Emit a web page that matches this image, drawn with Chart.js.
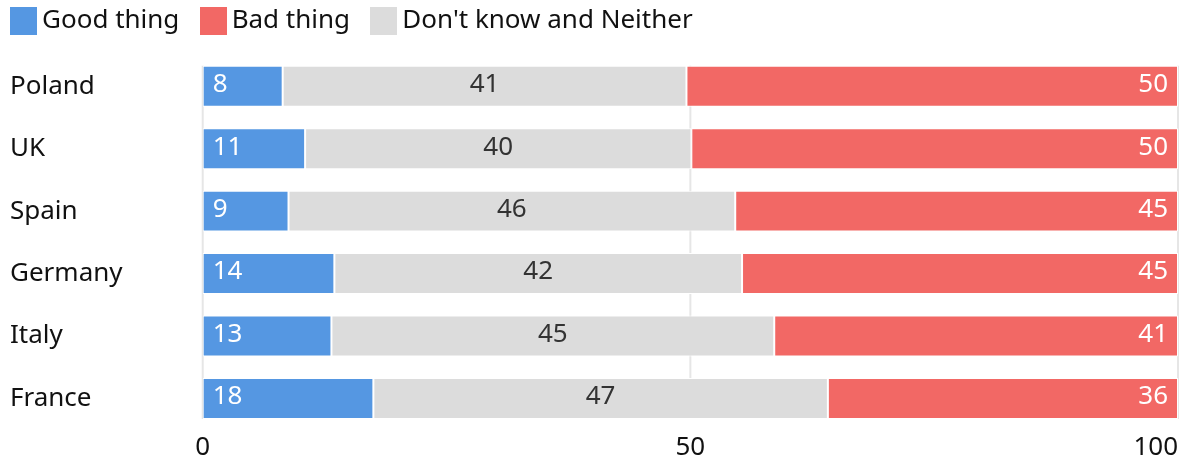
<!DOCTYPE html>
<html>
<head>
<meta charset="utf-8">
<script src="https://cdn.jsdelivr.net/npm/chart.js@4"></script>
<style>
html,body{margin:0;padding:0;background:#fff;}
#wrap{width:1186px;height:465px;position:relative;}
</style>
</head>
<body>
<div id="wrap"><canvas id="c"></canvas></div>
<script>
const categories = ['Poland', 'UK', 'Spain', 'Germany', 'Italy', 'France'];
const goodThing = [8.2, 10.5, 8.8, 13.5, 13.2, 17.5];
const dontKnow  = [41.4, 39.6, 45.8, 41.8, 45.4, 46.6];
const badThing  = [50.4, 49.9, 45.4, 44.7, 41.4, 35.9];
const seriesNames = ['Good thing', "Don't know and Neither", 'Bad thing'];
const legendOrder = [0, 2, 1];
const xTickValues = [0, 50, 100];
const xTickLabels = ['0', '50', '100'];

const colors = ['#5597E2', '#DCDCDC', '#F26865'];
const labelColors = ['#ffffff', '#333333', '#ffffff'];
const FONT = "'Noto Sans', sans-serif";
Chart.defaults.font.family = FONT;

function squareImg(c) {
  const cv = document.createElement('canvas');
  cv.width = 27; cv.height = 28;
  const g = cv.getContext('2d');
  g.fillStyle = c; g.fillRect(0, 0, 27, 28);
  return cv;
}

const legendPad = {
  id: 'legendPad',
  afterInit(chart) {
    const lg = chart.legend;
    if (!lg) return;
    const f = lg.fit;
    lg.fit = function () { f.apply(this, arguments); this.height = 55; };
  }
};

const gridLines = {
  id: 'gridLines',
  beforeDatasetsDraw(chart) {
    const ctx = chart.ctx, xs = chart.scales.x;
    const m = chart.getDatasetMeta(0).data;
    const top = m[0].y - m[0].height / 2;
    const bot = m[m.length - 1].y + m[m.length - 1].height / 2;
    ctx.save();
    ctx.strokeStyle = '#e6e6e6';
    ctx.lineWidth = 2;
    xTickValues.forEach(v => {
      const x = xs.getPixelForValue(v);
      ctx.beginPath(); ctx.moveTo(x, top); ctx.lineTo(x, bot); ctx.stroke();
    });
    ctx.restore();
  }
};

const valueLabels = {
  id: 'valueLabels',
  afterDatasetsDraw(chart) {
    const ctx = chart.ctx;
    ctx.save();
    ctx.font = "26px " + FONT;
    ctx.textBaseline = 'middle';
    chart.data.datasets.forEach((ds, di) => {
      const meta = chart.getDatasetMeta(di);
      meta.data.forEach((el, i) => {
        const txt = String(Math.round(ds.data[i]));
        const y = el.y - 1.5;
        let x, align;
        if (di === 0) { x = Math.min(el.x, el.base) + 10; align = 'left'; }
        else if (di === 1) { x = (el.x + el.base) / 2; align = 'center'; }
        else { x = Math.max(el.x, el.base) - 10; align = 'right'; }
        ctx.textAlign = align;
        ctx.fillStyle = labelColors[di];
        ctx.fillText(txt, x, y);
      });
    });
    ctx.restore();
  }
};

const xTickText = {
  id: 'xTickText',
  afterDraw(chart) {
    const ctx = chart.ctx, xs = chart.scales.x;
    ctx.save();
    ctx.font = "26px " + FONT;
    ctx.fillStyle = '#111';
    ctx.textBaseline = 'middle';
    xTickValues.forEach((v, i) => {
      const x = xs.getPixelForValue(v);
      ctx.textAlign = (i === xTickValues.length - 1) ? 'right' : 'center';
      ctx.fillText(xTickLabels[i], x, chart.chartArea.bottom + 18);
    });
    ctx.restore();
  }
};

new Chart(document.getElementById('c'), {
  type: 'bar',
  data: {
    labels: categories,
    datasets: [
      { label: seriesNames[0], data: goodThing, backgroundColor: colors[0] },
      { label: seriesNames[1], data: dontKnow, backgroundColor: colors[1] },
      { label: seriesNames[2], data: badThing, backgroundColor: colors[2] }
    ]
  },
  options: {
    indexAxis: 'y',
    responsive: true,
    maintainAspectRatio: false,
    animation: false,
    layout: { padding: { left: 10, right: 8, top: 0, bottom: 0 } },
    datasets: {
      bar: {
        barPercentage: 0.656,
        categoryPercentage: 1,
        borderWidth: 1,
        borderColor: '#ffffff',
        borderSkipped: false
      }
    },
    scales: {
      x: {
        type: 'linear', stacked: true, min: 0, max: 100,
        ticks: { display: false, stepSize: 50 },
        grid: { display: false },
        border: { display: false },
        afterFit(s) { s.height = 35.3; s.paddingLeft = 0; s.paddingRight = 0; }
      },
      y: {
        stacked: true,
        grid: { display: false },
        border: { display: false },
        ticks: { font: { size: 26 }, color: '#111', crossAlign: 'far', padding: 0 },
        afterFit(s) { s.width = 192.7; s.paddingTop = 0; s.paddingBottom = 0; }
      }
    },
    plugins: {
      tooltip: { enabled: false },
      legend: {
        position: 'top',
        align: 'start',
        labels: {
          usePointStyle: true,
          pointStyleWidth: 11,
          padding: 8,
          color: '#111',
          font: { size: 26 },
          generateLabels(chart) {
            const items = Chart.defaults.plugins.legend.labels.generateLabels(chart);
            return legendOrder.map((di, k) => {
              const it = items[di];
              it.pointStyle = squareImg(colors[di]);
              it.text = it.text + (k < legendOrder.length - 1 ? '   ' : '');
              return it;
            });
          }
        }
      }
    }
  },
  plugins: [legendPad, gridLines, valueLabels, xTickText]
});
</script>
</body>
</html>
